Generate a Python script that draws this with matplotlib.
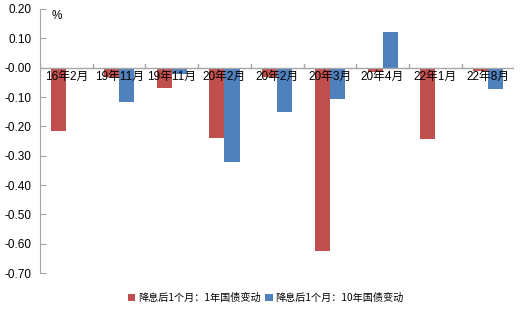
import numpy as np
import matplotlib
matplotlib.use("Agg")
import matplotlib.pyplot as plt

plt.rcParams['font.family'] = ['Liberation Sans', 'Noto Sans CJK SC', 'DejaVu Sans']

labels = ['16年2月', '19年11月', '19年11月', '20年2月', '20年2月',
          '20年3月', '20年4月', '22年1月', '22年8月']
chg_1y = [-0.217, -0.033, -0.070, -0.239, -0.033, -0.625, -0.014, -0.244, -0.010]
chg_10y = [-0.003, -0.117, -0.020, -0.320, -0.150, -0.108, 0.123, -0.003, -0.073]
names = ['降息后1个月：1年国债变动', '降息后1个月：10年国债变动']

red = '#C0504D'
blue = '#4F81BD'
axis_gray = '#A6A6A6'

fig = plt.figure(figsize=(5.21, 3.10), dpi=100)
ax = fig.add_axes([0.077, 0.119, 0.91, 0.852])

x = np.arange(len(labels))
w = 0.285
ax.bar(x - w / 2, chg_1y, w, color=red, label=names[0])
ax.bar(x + w / 2, chg_10y, w, color=blue, label=names[1])

ax.set_xlim(-0.5, len(labels) - 0.5)
ax.set_ylim(-0.70, 0.20)
ticks = np.arange(-0.70, 0.201, 0.10)
ax.set_yticks(ticks)
ax.set_yticklabels([f'{v:.2f}' for v in ticks], fontsize=8.5)
ax.tick_params(axis='y', direction='in', length=4, color=axis_gray, pad=6)

for s in ['top', 'right', 'bottom']:
    ax.spines[s].set_visible(False)
ax.spines['left'].set_color(axis_gray)
ax.axhline(0, color=axis_gray, lw=1, zorder=3)

# category boundaries as small upward ticks on the zero line
ax.set_xticks([])
for b in np.arange(-0.5, len(labels), 1.0):
    ax.plot([b, b], [0, 0.012], color=axis_gray, lw=1, zorder=3)
for i, lab in enumerate(labels):
    ax.text(i, -0.012, lab, ha='center', va='top', fontsize=8.5, zorder=4)

ax.text(-0.28, 0.195, '%', fontsize=8.5, va='top')

fig.legend(loc='center', bbox_to_anchor=(0.51, 0.04), ncol=2, frameon=False,
           handlelength=0.7, handleheight=0.7, handletextpad=0.3,
           columnspacing=0.5, prop={'family': ['Noto Sans CJK SC'], 'size': 7.3})

fig.savefig('out.png', dpi=100)
